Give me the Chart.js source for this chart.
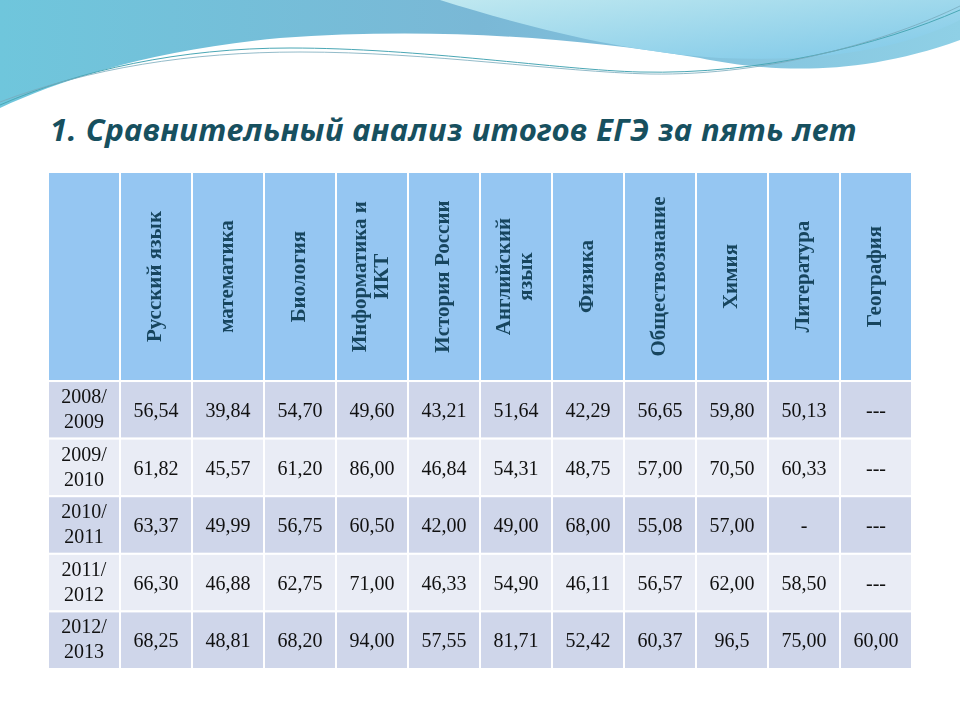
<!DOCTYPE html>
<html><head><meta charset="utf-8">
<script src="https://cdn.jsdelivr.net/npm/chart.js@4"></script>
<style>
html,body{margin:0;width:960px;height:720px;overflow:hidden;background:#fff;font-family:"Open Sans",sans-serif}
#bg{position:absolute;left:0;top:0}
h1{position:absolute;left:50px;top:108px;margin:0;font-size:31px;font-style:italic;font-weight:700;color:#17505f;letter-spacing:0.6px;font-family:"Noto Sans",sans-serif}
#wrap{position:absolute;left:48px;top:172px;width:864px;height:497px}
</style></head><body>
<svg id="bg" width="960" height="170">
<defs>
<linearGradient id="g1" x1="0" y1="0" x2="1" y2="0"><stop offset="0" stop-color="#6fc6dc"/><stop offset="0.5" stop-color="#7ab8d6"/><stop offset="1" stop-color="#8fd0e6"/></linearGradient>
<linearGradient id="g2" x1="0" y1="0" x2="1" y2="1"><stop offset="0" stop-color="#bfe8f0"/><stop offset="1" stop-color="#7ec8e8"/></linearGradient>
</defs>
<path d="M0 0 H960 V40 C850 80 760 70 700 58 C560 35 420 28 280 38 C150 50 60 80 0 108 Z" fill="url(#g1)"/>
<path d="M440 0 H960 V20 C900 50 820 62 720 58 C620 52 520 25 440 0Z" fill="url(#g2)"/>
<path d="M0 105 C80 70 180 48 290 48 C420 48 560 70 640 72 C760 75 880 45 960 10" fill="none" stroke="#4aa7b5" stroke-width="1"/>
<path d="M0 102 C90 68 190 52 300 52 C430 52 560 72 650 74 C770 76 890 40 960 6" fill="none" stroke="#7ab" stroke-width="0.8"/>
<path d="M0 110 C100 72 200 58 320 60" fill="none" stroke="#fff" stroke-width="3"/>
</svg>
<h1>1. Сравнительный анализ итогов ЕГЭ за пять лет</h1>
<div id="wrap"><canvas id="c"></canvas></div>
<script>
const subjects=[["Русский язык"],["математика"],["Биология"],["Информатика и","ИКТ"],["История России"],["Английский","язык"],["Физика"],["Обществознание"],["Химия"],["Литература"],["География"]];
const years=[["2008/","2009"],["2009/","2010"],["2010/","2011"],["2011/","2012"],["2012/","2013"]];
const r2009=["56,54","39,84","54,70","49,60","43,21","51,64","42,29","56,65","59,80","50,13","---"];
const r2010=["61,82","45,57","61,20","86,00","46,84","54,31","48,75","57,00","70,50","60,33","---"];
const r2011=["63,37","49,99","56,75","60,50","42,00","49,00","68,00","55,08","57,00","-","---"];
const r2012=["66,30","46,88","62,75","71,00","46,33","54,90","46,11","56,57","62,00","58,50","---"];
const r2013=["68,25","48,81","68,20","94,00","57,55","81,71","52,42","60,37","96,5","75,00","60,00"];
const rows=[r2009,r2010,r2011,r2012,r2013];
const HEAD=3.63;
const cols=["", ...subjects.map(s=>s.join(" "))];
const tablePlugin={id:"table",afterDraw(ch){
 const ctx=ch.ctx,x=ch.scales.x,y=ch.scales.y;
 const w=(x.getPixelForValue(1)-x.getPixelForValue(0));
 const cell=(ci,y0,y1,fill)=>{const cx=x.getPixelForValue(ci);const a=y.getPixelForValue(y0),b=y.getPixelForValue(y1);
  ctx.fillStyle=fill;ctx.fillRect(cx-w/2,a,w,b-a);ctx.strokeStyle="#fff";ctx.lineWidth=2;ctx.strokeRect(cx-w/2,a,w,b-a);return [cx,(a+b)/2];};
 ctx.save();
 for(let c=0;c<cols.length;c++){
  const [cx,cy]=cell(c,0,HEAD,"#95c6f2");
  if(c>0){const lines=subjects[c-1];ctx.save();ctx.translate(cx,cy);ctx.rotate(-Math.PI/2);
   ctx.fillStyle="#17455e";ctx.font="bold 21px 'Liberation Serif'";ctx.textAlign="center";ctx.textBaseline="middle";
   lines.forEach((l,i)=>ctx.fillText(l,0,(i-(lines.length-1)/2)*22));ctx.restore();}
 }
 rows.forEach((row,r)=>{
  const fill=r%2===0?"#cfd6ea":"#e9ecf5";
  const [fx,fy]=cell(0,HEAD+r,HEAD+r+1,fill);
  ctx.fillStyle="#111";ctx.font="20px 'Liberation Serif'";ctx.textAlign="center";ctx.textBaseline="middle";
  ctx.fillText(years[r][0],fx,fy-12);ctx.fillText(years[r][1],fx,fy+13);
  row.forEach((v,i)=>{const [cx,cy]=cell(i+1,HEAD+r,HEAD+r+1,fill);ctx.fillStyle="#111";ctx.fillText(v,cx,cy+2);});
 });
 ctx.restore();
}};
new Chart(document.getElementById("c"),{type:"bar",data:{labels:cols,datasets:[{data:[]}]},
 options:{responsive:true,maintainAspectRatio:false,animation:false,layout:{padding:0},
  plugins:{legend:{display:false},tooltip:{enabled:false}},
  scales:{x:{type:"category",offset:true,display:false},y:{type:"linear",min:0,max:HEAD+rows.length,reverse:true,display:false}}},
 plugins:[tablePlugin]});
</script></body></html>
